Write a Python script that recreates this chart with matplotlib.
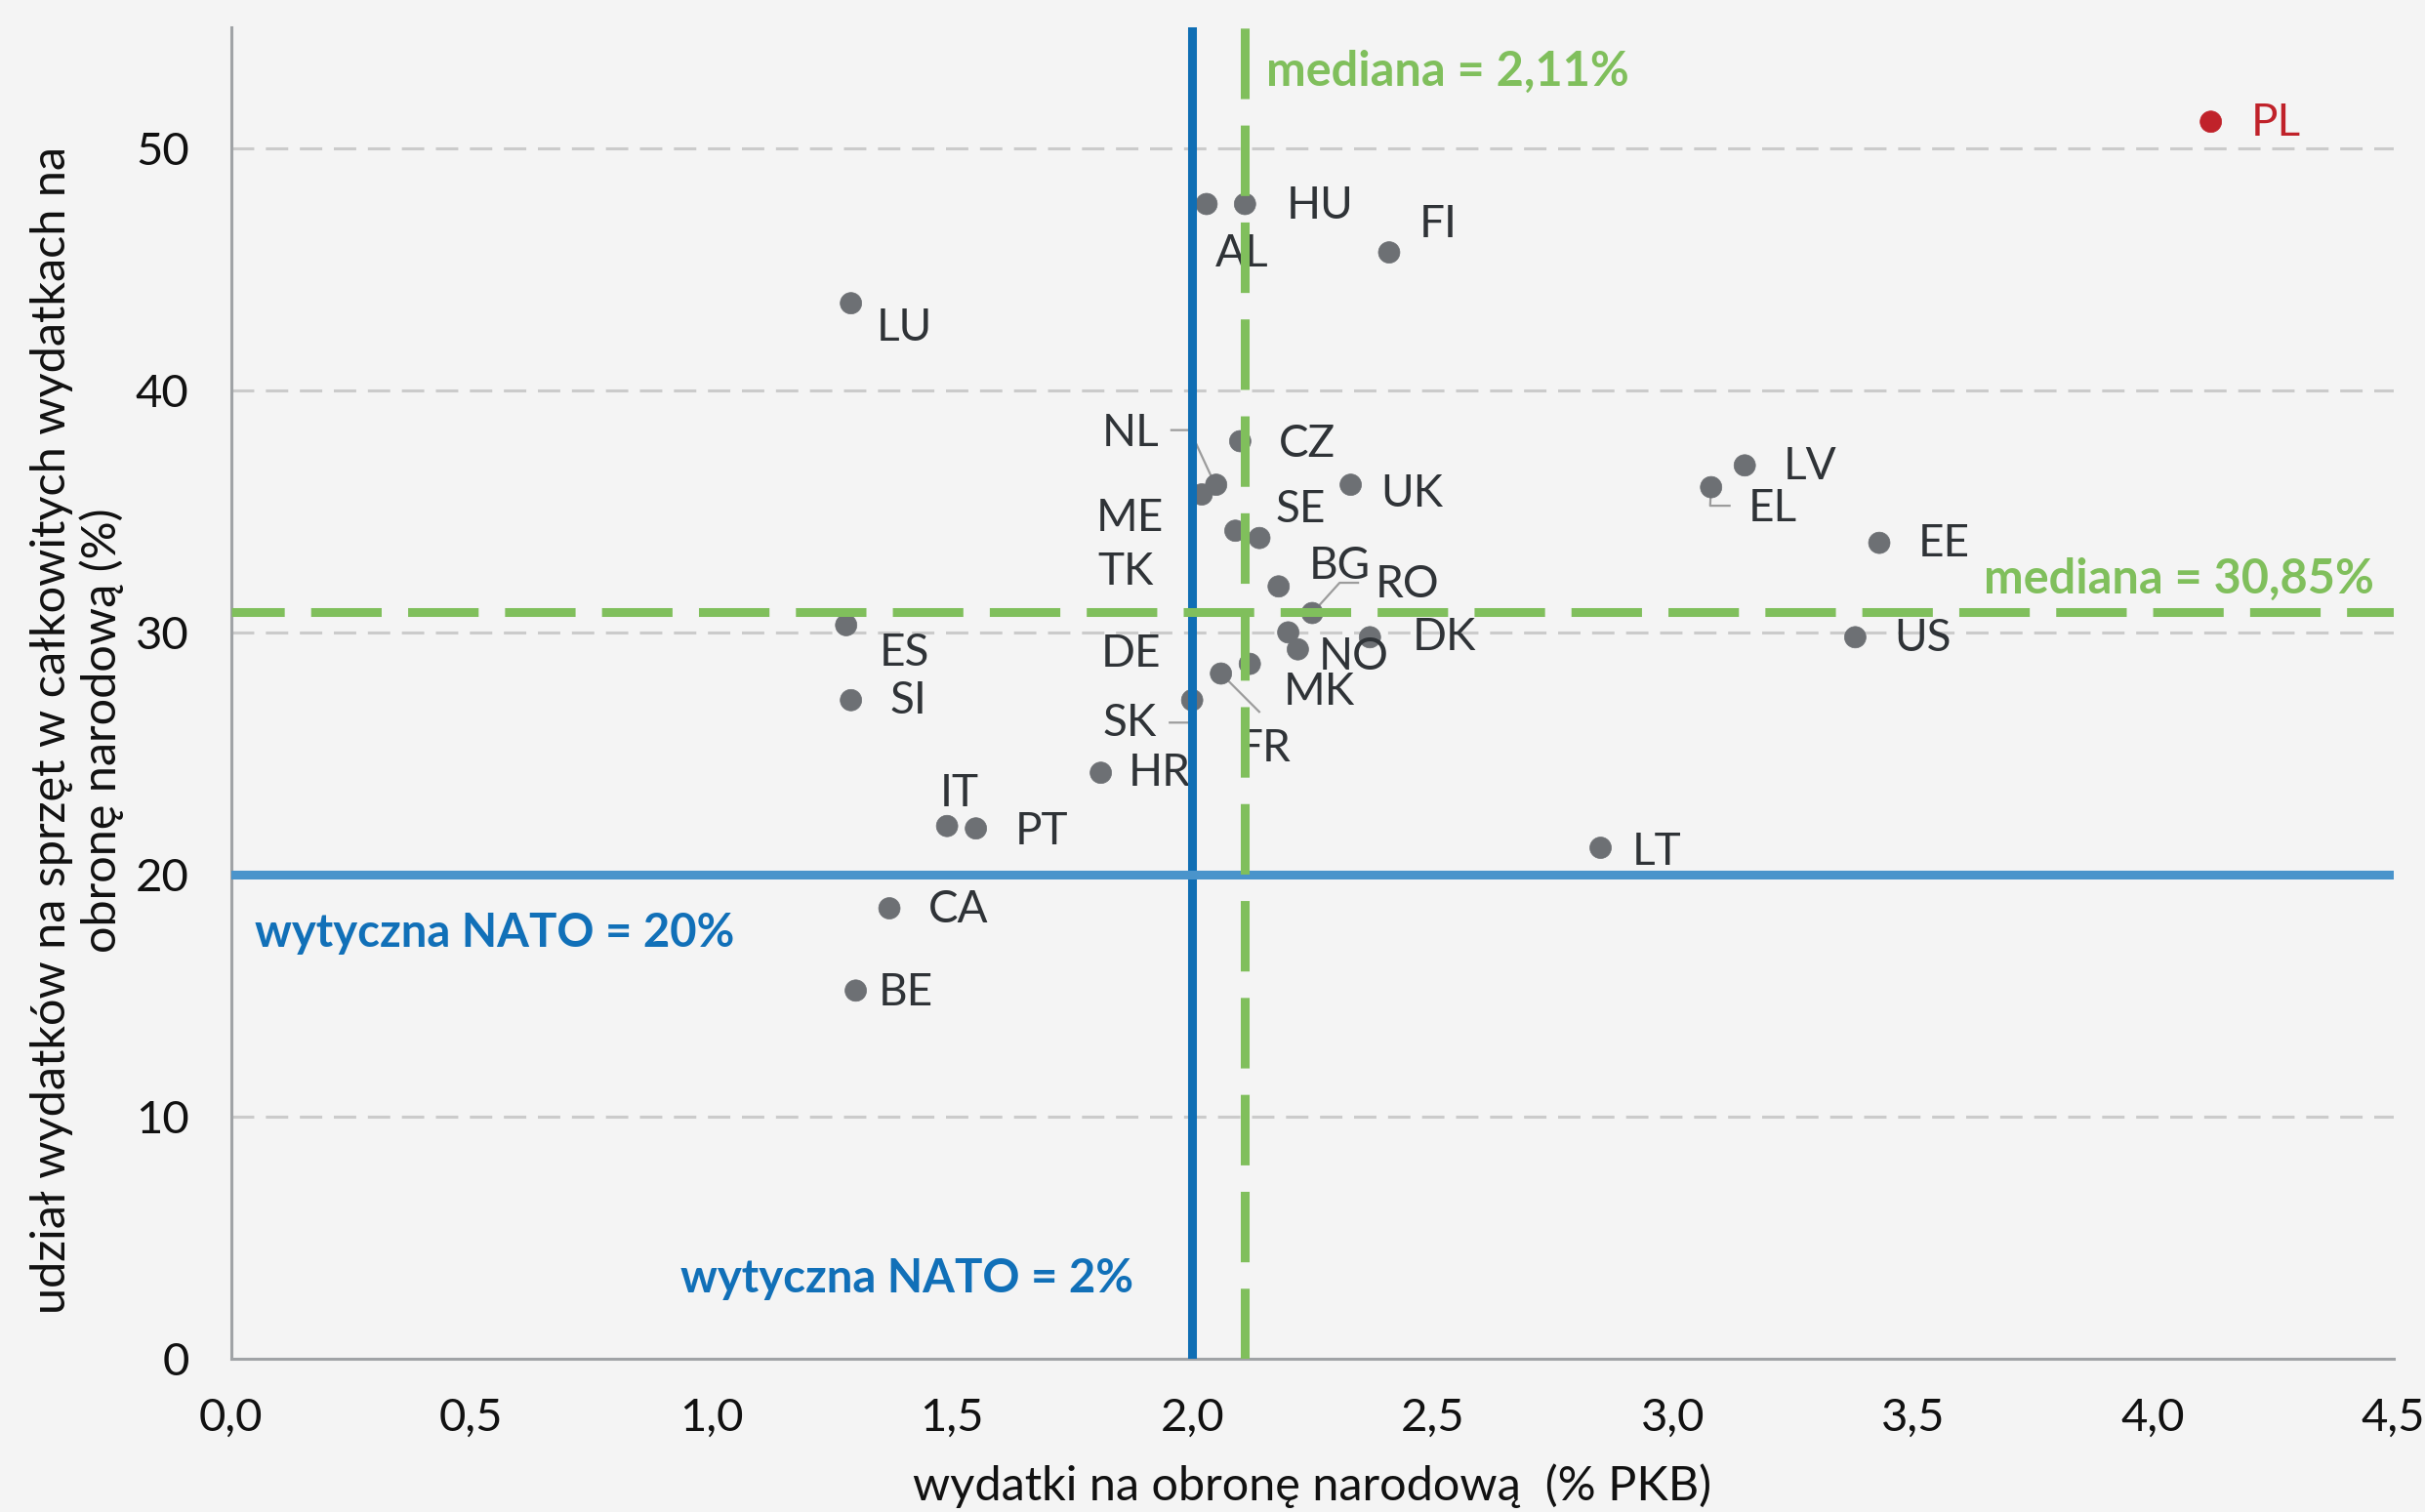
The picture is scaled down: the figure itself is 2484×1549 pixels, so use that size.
import matplotlib
matplotlib.use("Agg")
import matplotlib.pyplot as plt
import numpy as np

plt.rcParams['font.family'] = ['Lato', 'DejaVu Sans']

# ---------------- data ----------------
countries = ["PL", "HU", "AL", "FI", "LU", "NL", "CZ", "UK", "ME", "SE", "TK",
             "BG", "RO", "LV", "EL", "EE", "US", "ES", "DE", "NO", "DK", "MK",
             "SK", "FR", "SI", "IT", "PT", "HR", "LT", "CA", "BE"]
gdp_share = [4.12, 2.11, 2.03, 2.41, 1.29, 2.05, 2.10, 2.33, 2.02, 2.14, 2.09,
             2.18, 2.25, 3.15, 3.08, 3.43, 3.38, 1.28, 2.12, 2.20, 2.37, 2.22,
             2.00, 2.06, 1.29, 1.49, 1.55, 1.81, 2.85, 1.37, 1.30]
equipment_share = [51.1, 47.7, 47.7, 45.7, 43.6, 36.1, 37.9, 36.1, 35.7, 33.9, 34.2,
                   31.9, 30.8, 36.9, 36.0, 33.7, 29.8, 30.3, 28.7, 30.0, 29.8, 29.3,
                   27.2, 28.3, 27.2, 22.0, 21.9, 24.2, 21.1, 18.6, 15.2]
highlight = "PL"
median_gdp = 2.11
median_equipment = 30.85
nato_gdp = 2.0
nato_equipment = 20.0
x_ticks = [0.0, 0.5, 1.0, 1.5, 2.0, 2.5, 3.0, 3.5, 4.0, 4.5]
x_tick_labels = ["0,0", "0,5", "1,0", "1,5", "2,0", "2,5", "3,0", "3,5", "4,0", "4,5"]
y_ticks = [0, 10, 20, 30, 40, 50]
y_tick_labels = ["0", "10", "20", "30", "40", "50"]

# ---------------- layout (pixels) ----------------
label_offsets = {
    "PL": (41, -14), "HU": (42, -15), "AL": (9, -64), "FI": (31, 16),
    "LU": (26, -38), "NL": (-117, 40), "CZ": (40, -16), "UK": (31, -22),
    "ME": (-108, -37), "SE": (16, 16), "TK": (-141, -55), "BG": (31, 8),
    "RO": (65, 16), "LV": (40, -14), "EL": (38, -35), "EE": (40, -14),
    "US": (40, -14), "ES": (34, -42), "DE": (-152, -3), "NO": (31, -38),
    "DK": (43, -13), "MK": (-15, -57), "SK": (-92, -37), "FR": (17, -90),
    "SI": (40, -14), "IT": (-7, 20), "PT": (40, -16), "HR": (28, -13),
    "LT": (32, -17), "CA": (40, -14), "BE": (23, -15),
}
leaders = {
    "NL": [(-2, 2), (-27, 56), (-47, 56)],
    "RO": [(0, 0), (28, 31), (48, 31)],
    "SK": [(0, 0), (-3, -23), (-24, -23)],
    "FR": [(0, 0), (40, -40)],
    "EL": [(0, 0), (-1, -19), (20, -19)],
}

W, H = 2484, 1549
fig = plt.figure(figsize=(W / 100, H / 100), dpi=100)
bg = "#f4f4f4"
fig.patch.set_facecolor(bg)
ax_l, ax_r, ax_t, ax_b = 236.7, 2451.7, 28, 1391.7
ax = fig.add_axes([ax_l / W, 1 - ax_b / H, (ax_r - ax_l) / W, (ax_b - ax_t) / H])
ax.set_facecolor(bg)
ax.set_xlim(0, 4.5)
ax.set_ylim(0, 55)

# grid
for yv in y_ticks[1:]:
    ax.axhline(yv, color="#cbcbcb", lw=2.2, linestyle=(0, (7.5, 3.9)), zorder=1)

# spines
for s in ["top", "right"]:
    ax.spines[s].set_visible(False)
for s in ["left", "bottom"]:
    ax.spines[s].set_color("#a0a3a6")
    ax.spines[s].set_linewidth(2.2)
ax.tick_params(length=0, labelsize=34, labelcolor="#111111")
ax.tick_params(axis="y", pad=31)
ax.tick_params(axis="x", pad=29)
ax.set_xticks(x_ticks)
ax.set_xticklabels(x_tick_labels)
ax.set_yticks(y_ticks)
ax.set_yticklabels(y_tick_labels)

# points
cols = ["#c0222a" if c == highlight else "#6d7074" for c in countries]
ax.scatter(gdp_share, equipment_share, s=250, c=cols, edgecolors=cols,
           linewidths=0.5, zorder=3)

# labels
for c, x, y in zip(countries, gdp_share, equipment_share):
    dx, dy = label_offsets[c]
    ax.annotate(c, xy=(x, y), xytext=(dx, dy), textcoords="offset pixels",
                ha="left", va="baseline", fontsize=33,
                color="#c0222a" if c == highlight else "#2f3337", zorder=4)

# leader lines
fig.canvas.draw()
for c, offs in leaders.items():
    i = countries.index(c)
    p = ax.transData.transform((gdp_share[i], equipment_share[i]))
    pts = np.array([[p[0] + dx, p[1] + dy] for dx, dy in offs])
    d = ax.transData.inverted().transform(pts)
    ax.plot(d[:, 0], d[:, 1], color="#9c9c9c", lw=1.6, zorder=2.5,
            solid_capstyle="butt")

# reference lines
green = "#80bf5c"
ax.axvline(nato_gdp, color="#0f6eb4", lw=6.5, zorder=5)
ax.axhline(nato_equipment, color="#4a94cb", lw=6.5, zorder=5)
ax.axvline(median_gdp, color=green, lw=6.5, linestyle=(0, (8, 3)), zorder=6)
ax.axhline(median_equipment, color=green, lw=6.5, linestyle=(2, (8, 3)), zorder=6)

# annotations
ax.text(2.154, 52.6, "mediana = 2,11%", color=green, fontsize=35,
        fontweight="bold", ha="left", va="baseline", zorder=7)
ax.text(4.459, 31.6, "mediana = 30,85%", color=green, fontsize=35,
        fontweight="bold", ha="right", va="baseline", zorder=7)
ax.text(0.05, 17.0, "wytyczna NATO = 20%", color="#1170b8", fontsize=34,
        fontweight="bold", ha="left", va="baseline", zorder=7)
ax.text(1.878, 2.75, "wytyczna NATO = 2%", color="#1170b8", fontsize=34,
        fontweight="bold", ha="right", va="baseline", zorder=7)

# axis titles
fig.text(1344 / W, 1 - 1537 / H, "wydatki na obronę narodową  (% PKB)",
         ha="center", va="baseline", fontsize=35, color="#111111")
fig.text(79 / W, 1 - 748 / H,
         "udział wydatków na sprzęt w całkowitych wydatkach na\nobronę narodową (%)",
         rotation=90, ha="center", va="center", multialignment="center",
         fontsize=35, color="#111111", linespacing=1.17)

fig.savefig("out.png", dpi=100, facecolor=bg)
